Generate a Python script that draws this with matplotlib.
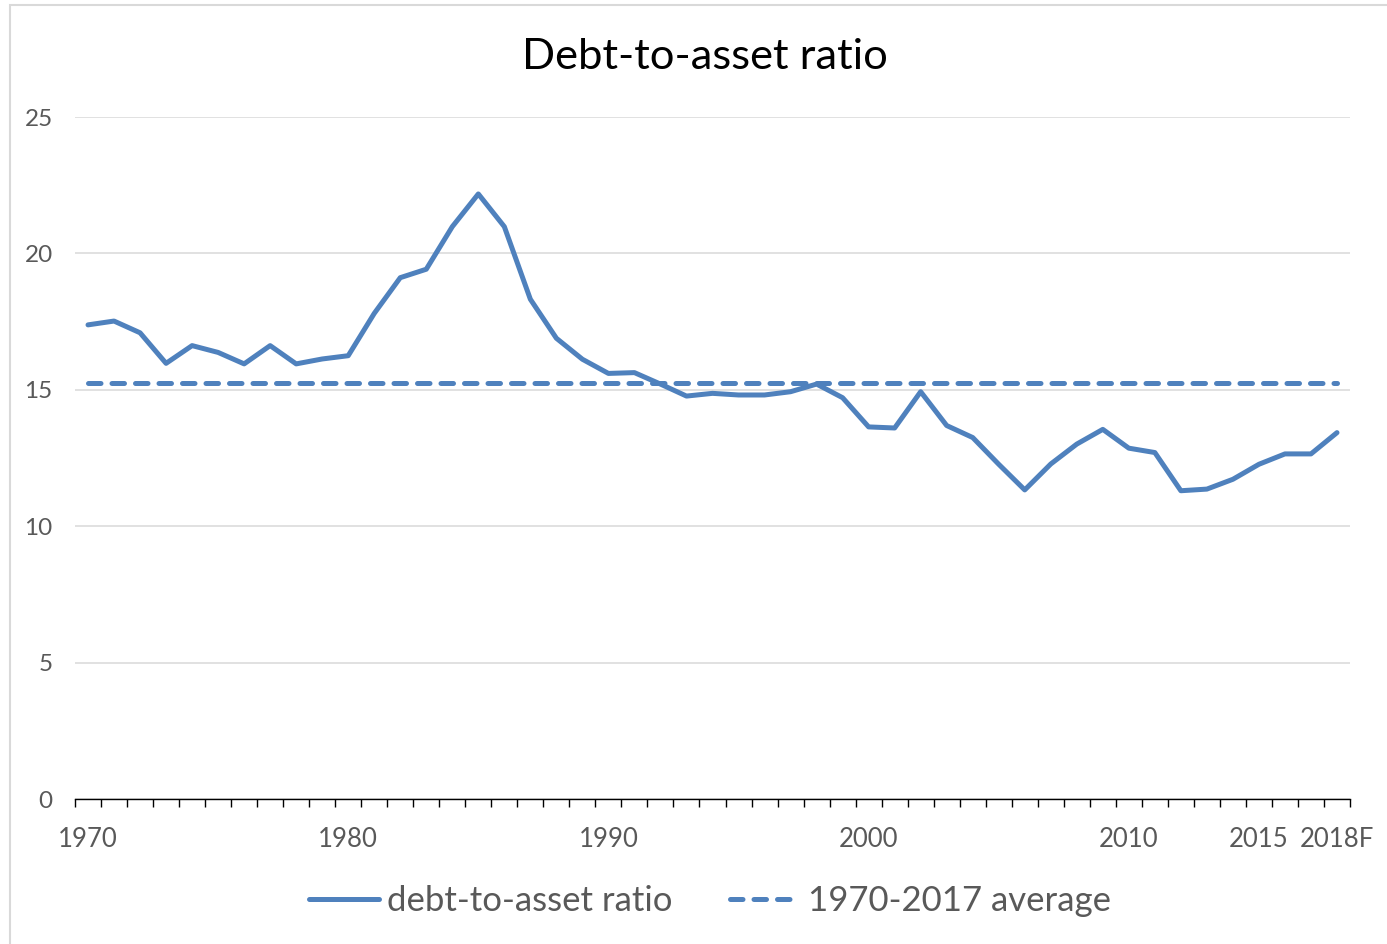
"""
Debt-to-asset ratio, 1970-2018F, against its 1970-2017 average
"""
import matplotlib.pyplot as plt
from matplotlib.patches import Rectangle
import numpy as np

years = [str(y) for y in range(1970, 2018)] + ['2018F']
ratio = [17.38, 17.52, 17.09, 15.97, 16.62, 16.37, 15.95, 16.62, 15.95, 16.13,
         16.25, 17.80, 19.11, 19.42, 20.98, 22.18, 20.98, 18.32, 16.89, 16.12,
         15.60, 15.63, 15.21, 14.77, 14.87, 14.81, 14.81, 14.93, 15.21, 14.71,
         13.64, 13.60, 14.93, 13.69, 13.25, 12.27, 11.33, 12.28, 13.01, 13.55,
         12.86, 12.70, 11.30, 11.36, 11.72, 12.27, 12.65, 12.65, 13.43]
avg_1970_2017 = 15.24
shown_labels = ['1970', '1980', '1990', '2000', '2010', '2015', '2018F']

BLUE = '#4f81bd'
GRID = '#d9d9d9'
TXT = '#595959'

plt.rcParams['font.family'] = ['Lato', 'DejaVu Sans']

fig = plt.figure(figsize=(13.87, 9.44), dpi=100)
fig.patch.set_facecolor('white')

# chart-area border
fig.patches.append(Rectangle((10 / 1387, -0.05), 1.1, 1 - 5 / 944 + 0.05,
                             transform=fig.transFigure, fill=False,
                             edgecolor='#d9d9d9', linewidth=1.5))

ax = fig.add_axes([75 / 1387, 1 - 799 / 944, (1350 - 75) / 1387, (799 - 117) / 944])

x = np.arange(len(years))
ax.plot(x, ratio, color=BLUE, lw=3.6, solid_capstyle='round', solid_joinstyle='round',
        label='debt-to-asset ratio', zorder=3)
ax.plot(x, [avg_1970_2017] * len(years), color=BLUE, lw=3.6, linestyle=(0, (2.5, 2.2)),
        dash_capstyle='round', label='1970-2017 average', zorder=3)

ax.set_xlim(-0.5, len(years) - 0.5)
ax.set_ylim(0, 25)
ax.set_yticks(range(0, 26, 5))
ax.grid(axis='y', color=GRID, lw=1.1)
ax.set_axisbelow(True)

# category boundary ticks, labels at selected category centres
ax.set_xticks(np.arange(len(years) + 1) - 0.5)
ax.set_xticklabels([])
ax.set_xticks([years.index(l) for l in shown_labels], minor=True)
ax.set_xticklabels(shown_labels, minor=True)
ax.tick_params(axis='x', which='major', length=6, width=1.0, color='black', direction='out')
ax.tick_params(axis='x', which='minor', length=0, pad=20, labelsize=18.5, labelcolor=TXT)
ax.tick_params(axis='y', length=0, pad=16, labelsize=17.5, labelcolor=TXT)

for s in ['top', 'right', 'left']:
    ax.spines[s].set_visible(False)
ax.spines['bottom'].set_color('black')
ax.spines['bottom'].set_linewidth(1.0)

fig.text(705 / 1387, 1 - 57 / 944, 'Debt-to-asset ratio', ha='center', va='center',
         fontsize=31.3, color='black')

fig.legend(loc='center', bbox_to_anchor=(710 / 1387, 1 - 901 / 944), ncol=2, frameon=False,
           fontsize=25, labelcolor=TXT, handlelength=2.0, handletextpad=0.23,
           columnspacing=1.67)

fig.savefig('out.png', dpi=100, facecolor='white')
